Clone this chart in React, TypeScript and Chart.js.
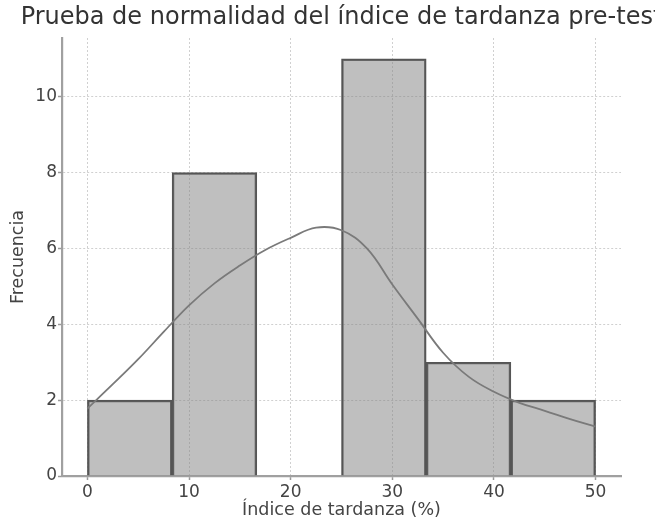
import React, { useEffect, useRef } from "react";
import { Chart, registerables } from "chart.js";

Chart.register(...registerables);

const binEdges = [0, 8.333, 16.667, 25, 33.333, 41.667, 50];
const binCounts = [2, 8, 0, 11, 3, 2];
const kdeX = [0, 2.5, 5, 7.5, 10, 12.5, 15, 17.5, 20, 22.5, 25, 27.5, 30, 32.5, 35, 37.5, 40, 42.5, 45, 47.5, 50];
const kdeY = [1.78, 2.42, 3.08, 3.8, 4.5, 5.08, 5.55, 5.96, 6.28, 6.55, 6.48, 6.0, 5.05, 4.15, 3.25, 2.62, 2.22, 1.93, 1.72, 1.5, 1.3];
const xTicks = [0, 10, 20, 30, 40, 50];
const yTicks = [0, 2, 4, 6, 8, 10];
const titleText = "Prueba de normalidad del índice de tardanza pre-test";
const xLabel = "Índice de tardanza (%)";
const yLabel = "Frecuencia";

const FONT = "'DejaVu Sans', sans-serif";

const titlePlugin = {
  id: "topTitle",
  afterDraw(chart: any) {
    const { ctx, chartArea } = chart;
    ctx.save();
    ctx.font = `24px ${FONT}`;
    ctx.fillStyle = "#333333";
    ctx.textAlign = "center";
    ctx.textBaseline = "middle";
    ctx.fillText(titleText, (chartArea.left + chartArea.right) / 2, 18);
    ctx.restore();
  },
};

const gridOpts: any = {
  color: "#d0d0d0",
  lineWidth: 1,
  offset: false,
  drawTicks: true,
  tickLength: 4,
  tickColor: "#999999",
  tickBorderDash: [],
  tickWidth: 1.5,
};

export default function App() {
  const ref = useRef<HTMLCanvasElement | null>(null);
  useEffect(() => {
    if (!ref.current) return;
    const barData = binCounts.map((c, i) => ({ x: (binEdges[i] + binEdges[i + 1]) / 2, y: c }));
    const lineData = kdeX.map((x, i) => ({ x, y: kdeY[i] }));
    const chart = new Chart(ref.current, {
      type: "bar",
      data: {
        datasets: [
          {
            type: "line",
            data: lineData,
            borderColor: "#7a7a7a",
            borderWidth: 1.8,
            pointRadius: 0,
            tension: 0.4,
            fill: false,
            order: 0,
          } as any,
          {
            type: "bar",
            data: barData,
            backgroundColor: "rgba(128,128,128,0.5)",
            borderColor: "#555555",
            borderWidth: 1.8,
            barPercentage: 1,
            categoryPercentage: 1,
            order: 1,
          } as any,
        ],
      },
      plugins: [titlePlugin],
      options: {
        animation: false,
        responsive: false,
        maintainAspectRatio: false,
        layout: { padding: { left: 0, right: 34, top: 38, bottom: 0 } },
        plugins: { legend: { display: false }, tooltip: { enabled: false }, title: { display: false } },
        scales: {
          x: {
            type: "linear",
            offset: false,
            min: -2.5,
            max: 52.5,
            afterBuildTicks: (s: any) => { s.ticks = xTicks.map((v) => ({ value: v })); },
            afterFit: (s: any) => { s.height = 48; },
            ticks: { color: "#444444", font: { family: FONT, size: 17 }, padding: 2 },
            grid: gridOpts,
            border: { display: true, color: "#a0a0a0", width: 2.2, dash: [2, 2] },
            title: { display: true, text: xLabel, color: "#444444", font: { family: FONT, size: 17.5 }, padding: { top: 0, bottom: 3 } },
          },
          y: {
            type: "linear",
            min: 0,
            max: 11.55,
            afterBuildTicks: (s: any) => { s.ticks = yTicks.map((v) => ({ value: v })); },
            afterFit: (s: any) => { s.width = 62; },
            ticks: { color: "#444444", font: { family: FONT, size: 17 }, padding: 1 },
            grid: gridOpts,
            border: { display: true, color: "#a0a0a0", width: 2.2, dash: [2, 2] },
            title: { display: true, text: yLabel, color: "#444444", font: { family: FONT, size: 17.5 }, padding: { top: 8, bottom: 0 } },
          },
        },
      } as any,
    });
    return () => chart.destroy();
  }, []);
  return (
    <div style={{ position: "fixed", left: 0, top: 0, width: 655, height: 524, background: "#ffffff" }}>
      <canvas ref={ref} width={655} height={524} style={{ width: 655, height: 524, display: "block" }} />
    </div>
  );
}
